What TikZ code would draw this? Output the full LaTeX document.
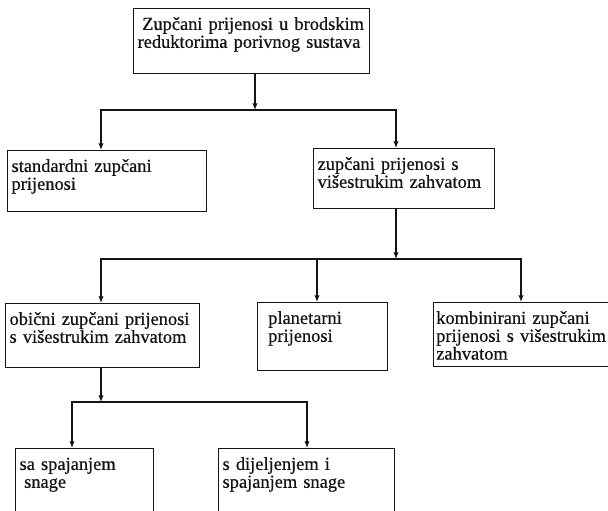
\documentclass[tikz,border=0pt]{standalone}
\usepackage{fontspec}
\setmainfont{Liberation Serif}[FakeBold=0.6]
\usetikzlibrary{arrows.meta}
\definecolor{ink}{RGB}{20,20,20}
\newcommand\boxfont{\fontsize{13.8pt}{13.4pt}\selectfont}
\tikzset{
  box/.style={draw=ink,line width=0.9pt,anchor=north west,align=left,
    inner xsep=3pt,inner ysep=0pt,text height=16pt,font=\boxfont,text=ink},
  flow/.style={-{Latex[length=5pt,width=4pt]},line width=0.9pt,draw=ink},
}

\begin{document}
\begin{tikzpicture}[x=0.75pt,y=-0.75pt]
    \path[fill=white] (0,0) rectangle (608,511);
    \clip (0,0) rectangle (608,511);

    % root
    \node[box,text width=171pt,text depth=32.75pt] (top) at (133,8)
      {\hspace*{0.25em}Zupčani prijenosi u brodskim\\reduktorima porivnog sustava};

    % second level
    \node[box,text width=143.25pt,text depth=29.75pt] (std) at (7,150)
      {standardni zupčani\\prijenosi};
    \node[box,text width=129.75pt,text depth=29pt] (vis) at (313,148)
      {zupčani prijenosi s\\višestrukim zahvatom};

    % third level
    \node[box,text width=139.5pt,text depth=32pt] (obi) at (5,303)
      {obični zupčani prijenosi\\s višestrukim zahvatom};
    \node[box,inner xsep=8pt,text width=81.5pt,text depth=35pt] (pla) at (257,302)
      {planetarni\\prijenosi};
    \node[box,inner xsep=2pt,text width=126.9pt,text depth=32pt] (kom) at (433,302)
      {kombinirani zupčani\\prijenosi~s~višestrukim\\zahvatom};

    % fourth level
    \node[box,text width=97.5pt,text depth=60pt] (sas) at (15,448)
      {sa spajanjem\\\hspace*{0.25em}snage};
    \node[box,text width=126pt,text depth=60pt] (sdi) at (218,448)
      {s dijeljenjem i\\spajanjem snage};

    % branch points
    \coordinate (a1) at (255,110);
    \coordinate (a1l) at (101,110);
    \coordinate (a2) at (396,259);
    \coordinate (a2m) at (317,259);
    \coordinate (a2r) at (521,259);
    \coordinate (a3) at (101,402);
    \coordinate (a3l) at (72,402);
    \coordinate (a3r) at (307,402);

    % connectors
    \draw[flow] (top.south -| a1) -- (a1);
    \draw[flow] (a1) -| (a1l |- std.north);
    \draw[flow] (a1) -| (a2 |- vis.north);

    \draw[flow] (vis.south -| a2) -- (a2);
    \draw[flow] (a2) -| (a3 |- obi.north);
    \draw[flow] (a2m) -- (a2m |- pla.north);
    \draw[flow] (a2) -| (a2r |- kom.north);

    \draw[flow] (obi.south -| a3) -- (a3);
    \draw[flow] (a3) -| (a3l |- sas.north);
    \draw[flow] (a3) -| (a3r |- sdi.north);
\end{tikzpicture}
\end{document}
